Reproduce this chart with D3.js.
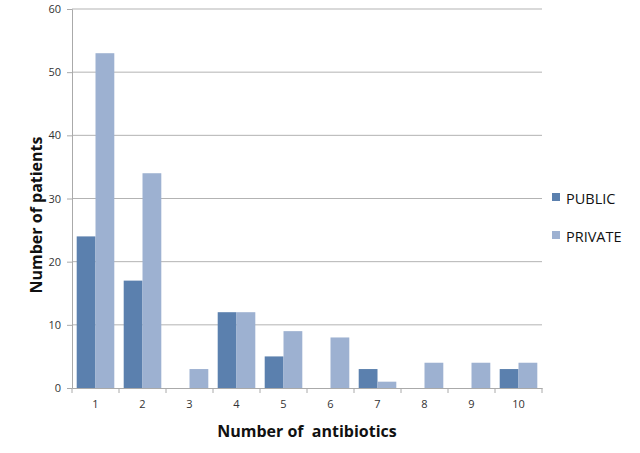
<!DOCTYPE html>
<html><head><meta charset="utf-8">
<script src="https://cdn.jsdelivr.net/npm/d3@7/dist/d3.min.js"></script>
<style>body{margin:0;background:#fff}svg{display:block}</style>
</head><body>
<svg id="c" width="640" height="453"></svg>
<script>
const categories = ["1","2","3","4","5","6","7","8","9","10"];
const seriesNames = ["PUBLIC","PRIVATE"];
const publicValues = [24,17,0,12,5,0,3,0,0,3];
const privateValues = [53,34,3,12,9,8,1,4,4,4];
const yTicks = [0,10,20,30,40,50,60];
const colors = ["#5b80ae","#9db1d1"];

const svg = d3.select("#c");
const m = {left:72, right:542, top:9, bottom:388};
const x = d3.scaleBand().domain(categories).range([m.left,m.right]).paddingInner(0.2).paddingOuter(0.1);
const xs = d3.scaleBand().domain(seriesNames).range([0,x.bandwidth()]);
const y = d3.scaleLinear().domain([0,60]).range([m.bottom,m.top]);

// gridlines
svg.append("g").selectAll("line").data(yTicks.filter(d=>d>0)).join("line")
  .attr("x1",m.left).attr("x2",m.right).attr("y1",d=>y(d)).attr("y2",d=>y(d))
  .attr("stroke","#b3b3b3").attr("stroke-width",1);

// bars
const data = categories.map((c,i)=>({c, vals:[publicValues[i],privateValues[i]]}));
const g = svg.append("g");
data.forEach(d=>{
  d.vals.forEach((v,j)=>{
    if(v<=0) return;
    g.append("rect").attr("x",x(d.c)+xs(seriesNames[j])).attr("width",xs.bandwidth())
     .attr("y",y(v)).attr("height",y(0)-y(v)).attr("fill",colors[j]);
  });
});

// y axis
const ya = svg.append("g").attr("transform",`translate(${m.left},0)`)
  .call(d3.axisLeft(y).tickValues(yTicks).tickSize(5).tickPadding(6));
ya.select(".domain").attr("stroke","#aaa");
ya.selectAll(".tick line").attr("stroke","#aaa");
ya.selectAll("text").attr("font-family","'Open Sans', sans-serif").attr("font-size",11).attr("fill","#333");

// x axis
const xa = svg.append("g").attr("transform",`translate(0,${m.bottom})`)
  .call(d3.axisBottom(x).tickSize(0).tickPadding(12));
xa.select(".domain").attr("stroke","#aaa");
xa.selectAll("text").attr("font-family","'Open Sans', sans-serif").attr("font-size",11).attr("fill","#333");
// boundary ticks
const bounds = d3.range(categories.length+1).map(i=>m.left + i*x.step());
xa.append("g").selectAll("line").data(bounds).join("line")
  .attr("x1",d=>d).attr("x2",d=>d).attr("y1",0).attr("y2",5).attr("stroke","#aaa");

// titles
svg.append("text").attr("x",307).attr("y",437).attr("text-anchor","middle")
  .attr("font-family","'Open Sans', sans-serif").attr("font-weight","bold").attr("font-size",16)
  .attr("fill","#111").text("Number of  antibiotics").style("white-space","pre");
svg.append("text").attr("transform","translate(42,215) rotate(-90)").attr("text-anchor","middle")
  .attr("font-family","'Open Sans', sans-serif").attr("font-weight","bold").attr("font-size",16)
  .attr("fill","#111").text("Number of patients");

// legend
const lg = svg.append("g");
seriesNames.forEach((n,i)=>{
  const yy = 199 + i*38;
  lg.append("rect").attr("x",552).attr("y",yy-6).attr("width",8).attr("height",8).attr("fill",colors[i]);
  lg.append("text").attr("x",566).attr("y",yy+5).attr("font-family","'Open Sans', sans-serif")
    .attr("font-size",14.5).attr("fill","#111").text(n);
});
</script>
</body></html>
